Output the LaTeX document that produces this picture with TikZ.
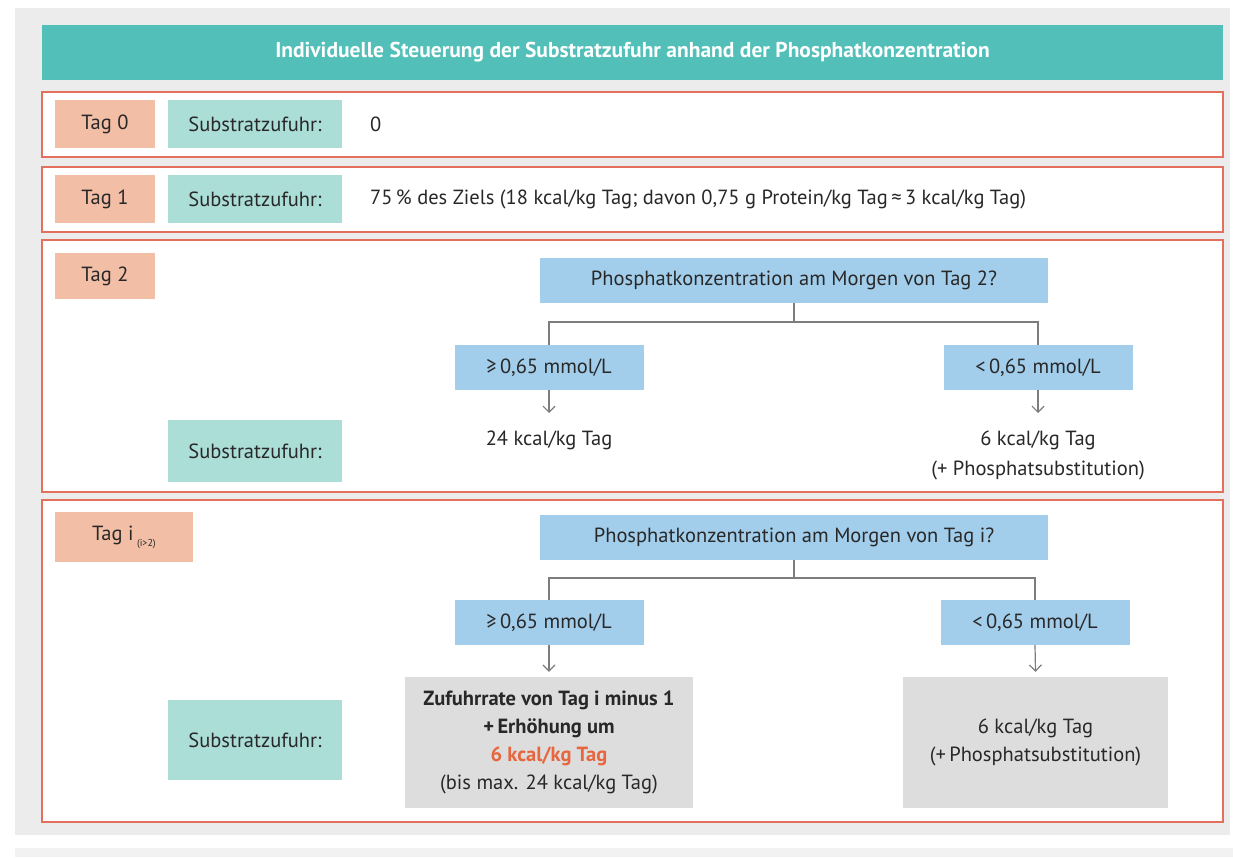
\documentclass[tikz,border=0pt]{standalone}
\usepackage{fontspec}
\setmainfont{PT Sans}
\usetikzlibrary{
  arrows.meta,
  positioning
}
\definecolor{panelcolor}{RGB}{236, 236, 236}
\definecolor{titlecolor}{RGB}{82, 192, 184}
\definecolor{framecolor}{RGB}{226, 112, 92}
\definecolor{daycolor}{RGB}{242, 190, 166}
\definecolor{feedcolor}{RGB}{172, 222, 216}
\definecolor{querycolor}{RGB}{162, 206, 236}
\definecolor{resultcolor}{RGB}{221, 221, 221}
\definecolor{arrowcolor}{RGB}{125, 125, 125}
\definecolor{labelcolor}{RGB}{40, 40, 40}
\definecolor{highlightcolor}{RGB}{232, 102, 62}
\tikzset{
blocktext/.style={
  align=center,
  font=\fontsize{20.5}{28}\selectfont,
  text=labelcolor,
  inner sep=0pt
},
titlebar/.style={
  fill=titlecolor,
  minimum width=1181pt,
  minimum height=55pt,
  font=\fontsize{21.5}{24}\selectfont\bfseries,
  text=white
},
rowframe/.style={
  draw=framecolor,
  fill=white,
  line width=2pt,
  minimum width=1181pt
},
daylabel/.style={
  fill=daycolor,
  minimum width=100pt,
  minimum height=48pt,
  blocktext
},
feedlabel/.style={
  fill=feedcolor,
  minimum width=174pt,
  minimum height=48pt,
  blocktext
},
querybox/.style={
  fill=querycolor,
  minimum width=508pt,
  minimum height=45pt,
  blocktext
},
rangebox/.style={
  fill=querycolor,
  minimum width=189pt,
  minimum height=45pt,
  blocktext
},
resultbox/.style={
  fill=resultcolor,
  minimum height=131pt,
  blocktext
},
resulttext/.style={
  blocktext,
  anchor=north,
  outer sep=18pt
},
link/.style={
  line width=1.2pt,
  draw=arrowcolor
},
arrow/.style={
  link,
  -{Straight Barb[length=6pt,width=12pt]}
}
}

\begin{document}
\begin{tikzpicture}[x=1pt, y=-1pt]
  \useasboundingbox (0,0) rectangle (1233,857);
  \fill[white] (0,0) rectangle (1233,857);
  \fill[panelcolor] (15,8) rectangle (1230,835);
  \fill[panelcolor!70] (15,848) rectangle (1233,857);

  \node[titlebar] (title) at (632.5,52.5) {Individuelle Steuerung der Substratzufuhr anhand der Phosphatkonzentration};

  % rows
  \node[rowframe, minimum height=65pt] (row0) at (632.5,124.5) {};
  \node[rowframe, minimum height=65pt] (row1) at (632.5,199.5) {};
  \node[rowframe, minimum height=252pt] (row2) at (632.5,366) {};
  \node[rowframe, minimum height=322pt] (rowi) at (632.5,661) {};

  % Tag 0
  \node[daylabel] (day0) at (105,124) {Tag 0};
  \node[feedlabel] (feed0) at (255,124) {Substratzufuhr:};
  \node[blocktext, anchor=west] (val0) at (370,124) {0};

  % Tag 1
  \node[daylabel] (day1) at (105,199) {Tag 1};
  \node[feedlabel] (feed1) at (255,199) {Substratzufuhr:};
  \node[blocktext, anchor=west] (val1) at (370,199) {75\,\% des Ziels (18 kcal/kg Tag; davon 0,75 g Protein/kg Tag\,≈\,3 kcal/kg Tag)};

  % Tag 2
  \node[daylabel, minimum height=46pt] (day2) at (105,276) {Tag 2};
  \node[feedlabel, minimum height=62pt] (feed2) at (255,451) {Substratzufuhr:};
  \node[querybox] (query2) at (794,280.5) {Phosphatkonzentration am Morgen von Tag 2?};
  \node[rangebox] (high2) at (549,367.5) {≥\,0,65 mmol/L};
  \node[rangebox] (low2) at (1038,367.5) {<\,0,65 mmol/L};
  \coordinate (fork2) at (794,322);
  \draw[link] (query2.south) -- (fork2);
  \draw[link] (high2.north) |- (fork2) -| (low2.north);
  \node[resulttext] (dose2a) at (549,413) {24 kcal/kg Tag};
  \node[resulttext, font=\fontsize{20.5}{30}\selectfont] (dose2b) at (1038,413) {6 kcal/kg Tag\\(+ Phosphatsubstitution)};
  \draw[arrow] (high2.south) -- (dose2a.north);
  \draw[arrow] (low2.south) -- (dose2b.north);

  % Tag i
  \node[daylabel, minimum width=138pt, minimum height=50pt] (dayi) at (124,537) {Tag i\,\raisebox{-6pt}{\fontsize{10}{10}\selectfont(i>2)}};
  \node[feedlabel, minimum height=80pt] (feedi) at (255,740) {Substratzufuhr:};
  \node[querybox] (queryi) at (794,537.5) {Phosphatkonzentration am Morgen von Tag i?};
  \node[rangebox] (highi) at (549,622.5) {≥\,0,65 mmol/L};
  \node[rangebox] (lowi) at (1035,622.5) {<\,0,65 mmol/L};
  \coordinate (forki) at (794,578);
  \draw[link] (queryi.south) -- (forki);
  \draw[link] (highi.north) |- (forki) -| (lowi.north);
  \node[resultbox, minimum width=288pt] (dosei1) at (549,742.5) {\textbf{Zufuhrrate von Tag i minus 1}\\\textbf{+\,Erhöhung um}\\\textcolor{highlightcolor}{\textbf{6 kcal/kg Tag}}\\(bis max. 24 kcal/kg Tag)};
  \node[resultbox, minimum width=265pt] (dosei2) at (1035.5,742.5) {6 kcal/kg Tag\\(+\,Phosphatsubstitution)};
  \draw[arrow] (highi.south) -- ([yshift=5pt]dosei1.north);
  \draw[arrow] (lowi.south) -- ([yshift=5pt]dosei2.north);
\end{tikzpicture}
\end{document}
